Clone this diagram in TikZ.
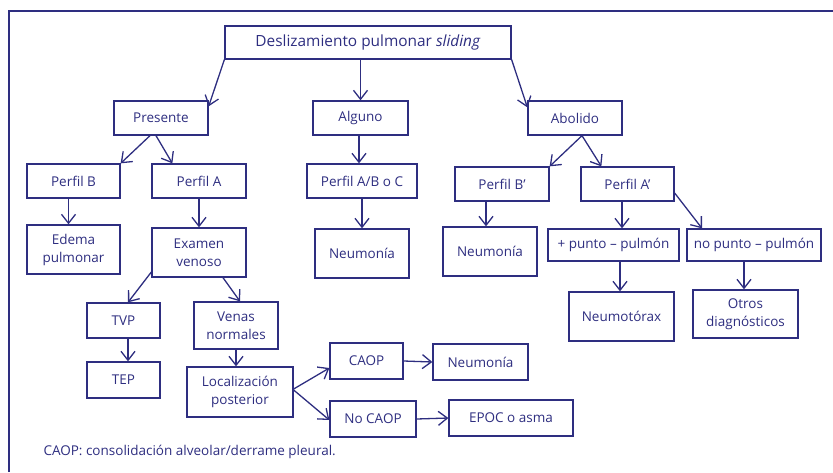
\documentclass[tikz,border=0pt]{standalone}
\usepackage{fontspec}
\setmainfont{Open Sans}
\usetikzlibrary{arrows.meta,calc}
\definecolor{navy}{RGB}{46,46,128}
\begin{document}
\begin{tikzpicture}[x=1pt,y=-1pt,
  every node/.style={font=\fontsize{13.5}{18}\selectfont, text=navy},
  bx/.style={draw=navy, line width=1.3pt, rectangle, inner sep=0pt, align=center},
  arr/.style={draw=navy, line width=1.3pt, -{Straight Barb[length=9pt,width=14pt,line width=1.3pt]}}]
\useasboundingbox (0,0) rectangle (833,472);
\draw[navy, line width=2.6pt] (9,472) -- (9,11) -- (833,11);
% nodes
\node[bx, minimum width=286pt, minimum height=33pt, font=\fontsize{15.4}{18}\selectfont] (main) at (368,42.5) {Deslizamiento pulmonar \textit{sliding}};
\node[bx, minimum width=94pt, minimum height=34pt] (pres) at (161,118) {Presente};
\node[bx, minimum width=95pt, minimum height=34pt] (alg) at (360.5,118) {Alguno};
\node[bx, minimum width=94pt, minimum height=34pt] (abo) at (575,118) {Abolido};
\node[bx, minimum width=93pt, minimum height=34pt] (pb) at (73.5,181) {Perfil B};
\node[bx, minimum width=94pt, minimum height=34pt] (pa) at (199,181) {Perfil A};
\node[bx, minimum width=110pt, minimum height=34pt] (pabc) at (362,181) {Perfil A/B o C};
\node[bx, minimum width=94pt, minimum height=34pt] (pbp) at (502,184) {Perfil B’};
\node[bx, minimum width=93pt, minimum height=34pt] (pap) at (627.5,184) {Perfil A’};
\node[bx, minimum width=93pt, minimum height=49pt] (edema) at (73.5,249.5) {Edema\\pulmonar};
\node[bx, minimum width=94pt, minimum height=49pt] (exam) at (199,252.5) {Examen\\venoso};
\node[bx, minimum width=94pt, minimum height=49pt] (neum) at (362,253.5) {Neumonía};
\node[bx, minimum width=94pt, minimum height=49pt] (neur) at (490,251.5) {Neumonía};
\node[bx, minimum width=131pt, minimum height=32pt] (punto) at (613.5,245) {+ punto – pulmón};
\node[bx, minimum width=134pt, minimum height=32pt] (nopunto) at (754,245) {no punto – pulmón};
\node[bx, minimum width=105pt, minimum height=49pt] (neumot) at (621.5,316.5) {Neumotórax};
\node[bx, minimum width=105pt, minimum height=48pt] (otros) at (745.5,314) {Otros\\diagnósticos};
\node[bx, minimum width=73pt, minimum height=35pt] (tvp) at (123.5,320.5) {TVP};
\node[bx, minimum width=73pt, minimum height=36pt] (tep) at (123.5,380) {TEP};
\node[bx, minimum width=84pt, minimum height=47pt] (venas) at (236,325.5) {Venas\\normales};
\node[bx, minimum width=106pt, minimum height=50pt] (local) at (240,392) {Localización\\posterior};
\node[bx, minimum width=73pt, minimum height=36pt] (caop) at (366.5,361) {CAOP};
\node[bx, minimum width=86pt, minimum height=36pt] (nocaop) at (373,419) {No CAOP};
\node[bx, minimum width=95pt, minimum height=36pt] (neub) at (480.5,362) {Neumonía};
\node[bx, minimum width=124pt, minimum height=36pt] (epoc) at (511,418) {EPOC o asma};
\node[anchor=west] (cap) at (40,452) {CAOP: consolidación alveolar/derrame pleural.};
% connectors
\draw[arr] (main.south west) -- ([yshift=-6pt]pres.north east);
\draw[arr] (alg.north |- main.south) -- (alg.north);
\draw[arr] (main.south east) -- ([yshift=-7pt]abo.north west);
\draw[arr] ([xshift=-11pt]pres.south) -- (pb.north east);
\draw[arr] ([xshift=-5pt]pres.south) -- ([xshift=21pt]pa.north west);
\draw[arr] ([xshift=-1.5pt]alg.south) -- ([xshift=-3pt]pabc.north);
\draw[arr] ([xshift=-5pt]pb.south) -- ([xshift=-5pt]edema.north);
\draw[arr] (pa.south) -- (exam.north);
\draw[arr] (pabc.south) -- (neum.north);
\draw[arr] ([xshift=7pt]abo.south) -- (pbp.north east);
\draw[arr] ([xshift=7pt]abo.south) -- ([xshift=21pt]pap.north west);
\draw[arr] ([xshift=-16pt]pbp.south) -- ([xshift=-4pt]neur.north);
\draw[arr] ([xshift=-5.5pt]pap.south) -- ([xshift=8.5pt]punto.north);
\draw[arr] ([yshift=-9pt]pap.east) -- ([xshift=-52pt]nopunto.north);
\draw[arr] ([xshift=6.5pt]punto.south) -- ([xshift=-1.5pt]neumot.north);
\draw[arr] ([xshift=-10pt]nopunto.south) -- ([xshift=-1.5pt]otros.north);
\draw[arr] ([yshift=-19.5pt]exam.west) -- ([xshift=4.5pt]tvp.north);
\draw[arr] ([xshift=24pt]exam.south) -- ([xshift=4pt]venas.north);
\draw[arr] ([xshift=4.5pt]tvp.south) -- ([xshift=4.5pt]tep.north);
\draw[arr] (venas.south) -- ([xshift=-4pt]local.north);
\draw[arr] ([yshift=3pt]local.east) -- ([yshift=-7pt]caop.west);
\draw[arr] ([yshift=2pt]local.east) -- ([yshift=-1pt]nocaop.west);
\draw[arr] (caop.east) -- (neub.west);
\draw[arr] (nocaop.east) -- (epoc.west);
\end{tikzpicture}
\end{document}
